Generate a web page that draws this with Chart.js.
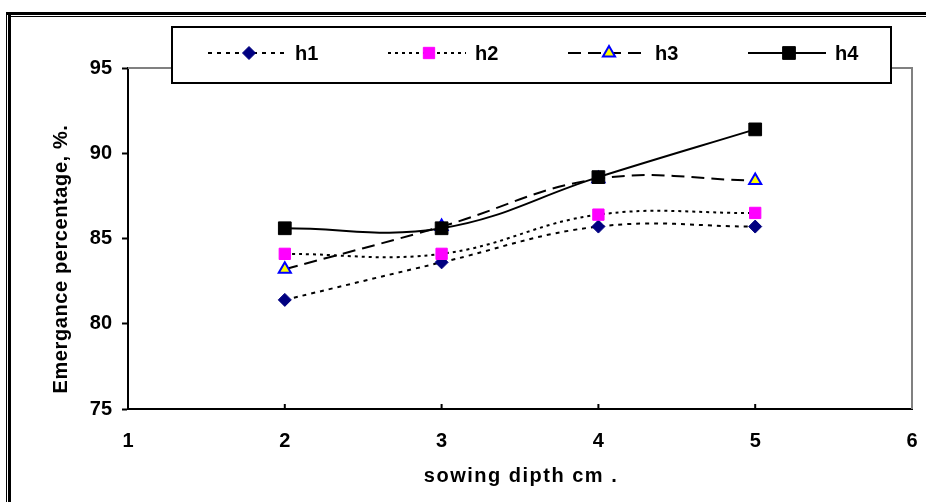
<!DOCTYPE html>
<html>
<head>
<meta charset="utf-8">
<script src="https://cdn.jsdelivr.net/npm/chart.js@4.4.1/dist/chart.umd.min.js"></script>
<style>
html, body { margin: 0; padding: 0; background: #fff; }
canvas { display: block; }
</style>
</head>
<body>
<canvas id="emergenceChart" width="926" height="502"></canvas>
<script>
const depths = [2, 3, 4, 5];
const h1 = [81.4, 83.6, 85.7, 85.7];
const h2 = [84.1, 84.1, 86.4, 86.5];
const h3 = [83.2, 85.7, 88.5, 88.4];
const h4 = [85.6, 85.6, 88.6, 91.4];
const seriesNames = ['h1', 'h2', 'h3', 'h4'];
const xTicks = [1, 2, 3, 4, 5, 6];
const yTicks = [75, 80, 85, 90, 95];

const FONT = '"Liberation Sans", Arial, sans-serif';

const toPoints = (vals) => depths.map((d, i) => ({ x: d, y: vals[i] }));

// frame, plot border, inside x ticks, boxed legend and axis titles
const excelLook = {
    id: 'excelLook',
    beforeDraw(chart) {
        const ctx = chart.ctx;
        ctx.save();
        ctx.fillStyle = '#fff';
        ctx.fillRect(0, 0, chart.width, chart.height);
        ctx.fillStyle = '#000';
        ctx.fillRect(6, 12, 1, chart.height);
        ctx.fillRect(8, 12, 3, chart.height);
        ctx.fillRect(6, 12, chart.width, 3);
        ctx.fillRect(11, 16, chart.width, 1);
        ctx.restore();
    },
    beforeDatasetsDraw(chart) {
        const ctx = chart.ctx;
        const a = chart.chartArea;
        ctx.save();
        ctx.strokeStyle = '#808080';
        ctx.lineWidth = 2;
        ctx.beginPath();
        ctx.moveTo(a.left, a.top);
        ctx.lineTo(a.right, a.top);
        ctx.lineTo(a.right, a.bottom);
        ctx.stroke();
        ctx.strokeStyle = '#000';
        ctx.beginPath();
        xTicks.slice(1, -1).forEach(v => {
            const px = chart.scales.x.getPixelForValue(v);
            ctx.moveTo(px, a.bottom);
            ctx.lineTo(px, a.bottom - 5);
        });
        ctx.stroke();
        ctx.restore();
    },
    afterDraw(chart) {
        const ctx = chart.ctx;
        ctx.save();
        // legend
        ctx.fillStyle = '#fff';
        ctx.fillRect(172, 27, 719, 56);
        ctx.strokeStyle = '#000';
        ctx.lineWidth = 2;
        ctx.strokeRect(172, 27, 719, 56);
        chart.data.datasets.forEach((ds, i) => {
            const x0 = 208 + i * 180;
            const y = 53;
            ctx.strokeStyle = ds.borderColor;
            ctx.lineWidth = ds.borderWidth;
            ctx.setLineDash(ds.borderDash || []);
            ctx.beginPath();
            ctx.moveTo(x0, y);
            ctx.lineTo(x0 + 78, y);
            ctx.stroke();
            ctx.setLineDash([]);
            ctx.fillStyle = ds.pointBackgroundColor;
            ctx.strokeStyle = ds.pointBorderColor;
            ctx.lineWidth = ds.pointBorderWidth;
            Chart.helpers.drawPoint(ctx, {
                pointStyle: ds.pointStyle,
                radius: ds.pointRadius,
                rotation: 0,
                borderWidth: ds.pointBorderWidth
            }, x0 + 41, y);
            ctx.fillStyle = '#000';
            ctx.font = 'bold 20px ' + FONT;
            ctx.textAlign = 'left';
            ctx.textBaseline = 'middle';
            ctx.fillText(ds.label, x0 + 87, y + 1);
        });
        // axis titles
        ctx.fillStyle = '#000';
        ctx.font = 'bold 20px ' + FONT;
        ctx.textAlign = 'center';
        ctx.textBaseline = 'middle';
        ctx.letterSpacing = '1.5px';
        ctx.fillText('sowing dipth cm .', 521, 476);
        ctx.letterSpacing = '0.6px';
        ctx.translate(61, 259);
        ctx.rotate(-Math.PI / 2);
        ctx.fillText('Emergance percentage, %.', 0, 0);
        ctx.restore();
    }
};

const ctx = document.getElementById('emergenceChart').getContext('2d');
new Chart(ctx, {
    type: 'line',
    data: {
        datasets: [{
            label: seriesNames[0],
            data: toPoints(h1),
            borderColor: '#000',
            borderWidth: 2,
            borderDash: [4, 5],
            pointStyle: 'rectRot',
            pointRadius: 6.5,
            pointBackgroundColor: '#000080',
            pointBorderColor: '#000080',
            pointBorderWidth: 1,
            order: 4
        }, {
            label: seriesNames[1],
            data: toPoints(h2),
            borderColor: '#000',
            borderWidth: 2,
            borderDash: [3, 4],
            pointStyle: 'rect',
            pointRadius: 8,
            pointBackgroundColor: '#ff00ff',
            pointBorderColor: '#ff00ff',
            pointBorderWidth: 1,
            order: 3
        }, {
            label: seriesNames[2],
            data: toPoints(h3),
            borderColor: '#000',
            borderWidth: 2,
            borderDash: [13, 7],
            pointStyle: 'triangle',
            pointRadius: 7,
            pointBackgroundColor: '#ffff00',
            pointBorderColor: '#0000ff',
            pointBorderWidth: 2,
            order: 2
        }, {
            label: seriesNames[3],
            data: toPoints(h4),
            borderColor: '#000',
            borderWidth: 2,
            pointStyle: 'rect',
            pointRadius: 9,
            pointBackgroundColor: '#000',
            pointBorderColor: '#000',
            pointBorderWidth: 1,
            order: 1
        }]
    },
    options: {
        responsive: false,
        animation: false,
        layout: { padding: { top: 68, right: 14, left: 0, bottom: 0 } },
        elements: { line: { tension: 0.4, fill: false } },
        scales: {
            x: {
                type: 'linear',
                min: xTicks[0],
                max: xTicks[xTicks.length - 1],
                afterFit: (scale) => {
                    scale.height = 93;
                    scale.paddingLeft = 0;
                    scale.paddingRight = 0;
                },
                afterBuildTicks: (scale) => { scale.ticks = xTicks.map(v => ({ value: v })); },
                border: { display: true, color: '#000', width: 2 },
                grid: { drawOnChartArea: false, drawTicks: false },
                ticks: {
                    color: '#000',
                    padding: 20,
                    font: { family: FONT, size: 20, weight: 'bold' }
                }
            },
            y: {
                min: yTicks[0],
                max: yTicks[yTicks.length - 1],
                afterFit: (scale) => { scale.width = 128; },
                afterBuildTicks: (scale) => { scale.ticks = yTicks.map(v => ({ value: v })); },
                border: { display: true, color: '#000', width: 2 },
                grid: { drawOnChartArea: false, drawTicks: true, tickLength: 6, tickColor: '#000', tickWidth: 2 },
                ticks: {
                    color: '#000',
                    padding: 10,
                    font: { family: FONT, size: 20, weight: 'bold' }
                }
            }
        },
        plugins: {
            legend: { display: false },
            tooltip: { enabled: false }
        }
    },
    plugins: [excelLook]
});
</script>
</body>
</html>
